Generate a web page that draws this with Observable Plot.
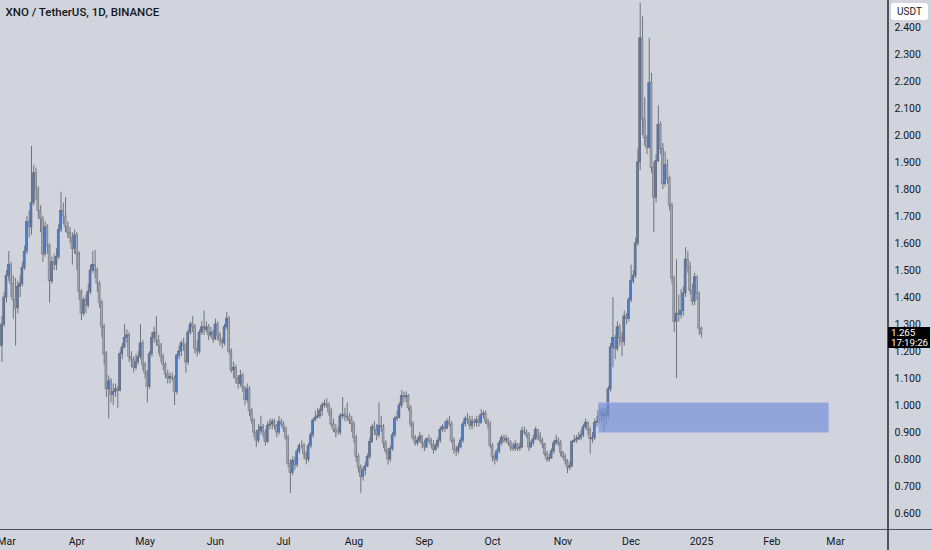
<!DOCTYPE html>
<html>
<head>
<meta charset="utf-8">
<script src="https://cdn.jsdelivr.net/npm/d3@7"></script>
<script src="https://cdn.jsdelivr.net/npm/@observablehq/plot@0.6"></script>
<style>
  body { margin: 0; background: #d1d4dc; }
  #chart { position: relative; width: 932px; height: 550px; background: #d1d4dc; overflow: hidden; font-family: Roboto, sans-serif; }
  #chart svg { position: absolute; left: 0; top: 0; }
  .vline { position: absolute; left: 887px; top: 0; width: 1.5px; height: 550px; background: #4f525c; }
  .hline { position: absolute; left: 0; top: 528.5px; width: 932px; height: 1.6px; background: #4f525c; }
  .badge { position: absolute; left: 891px; top: 3px; width: 37px; height: 17px; background: #fff; border-radius: 3px;
           font-size: 10px; line-height: 17px; text-align: center; color: #131722; }
  .last { position: absolute; left: 888px; width: 42px; height: 21px; background: #000; color: #fff;
          font-size: 9.8px; line-height: 10px; padding-left: 3px; box-sizing: border-box; padding-top: 1px;
          white-space: nowrap; letter-spacing: -0.1px; }
</style>
</head>
<body>
<div id="chart"></div>
<script>
// XNO/USDT daily candles
const title = "XNO / TetherUS, 1D, BINANCE"
const firstDay = "2024-02-28"
const firstOpen = 1.22

const close = [
  1.30,1.40,1.48,1.52,1.45,1.39,1.36,1.44,1.45,1.51,
  1.57,1.68,1.66,1.75,1.86,1.80,1.72,1.69,1.56,1.66,
  1.59,1.46,1.53,1.52,1.55,1.65,1.72,1.70,1.66,1.64,
  1.62,1.58,1.63,1.56,1.42,1.34,1.39,1.37,1.42,1.50,
  1.52,1.50,1.45,1.38,1.29,1.19,1.06,1.09,1.04,1.05,
  1.06,1.055,1.19,1.215,1.25,1.26,1.18,1.17,1.14,1.16,
  1.18,1.23,1.15,1.12,1.07,1.19,1.25,1.27,1.24,1.22,
  1.18,1.15,1.115,1.10,1.105,1.10,1.05,1.185,1.20,1.23,
  1.22,1.16,1.27,1.30,1.29,1.21,1.20,1.27,1.29,1.28,
  1.29,1.26,1.27,1.245,1.30,1.26,1.24,1.23,1.29,1.32,
  1.20,1.13,1.14,1.10,1.08,1.11,1.065,1.02,1.06,0.98,
  0.945,0.90,0.87,0.905,0.92,0.90,0.865,0.925,0.93,0.94,
  0.925,0.90,0.94,0.93,0.915,0.88,0.785,0.75,0.795,0.78,
  0.83,0.85,0.85,0.82,0.80,0.85,0.89,0.945,0.955,0.96,
  0.98,1.00,1.005,1.00,0.975,0.93,0.91,0.90,0.90,0.96,
  0.965,0.96,0.955,0.945,0.93,0.88,0.81,0.77,0.735,0.76,
  0.775,0.81,0.865,0.92,0.91,0.89,0.925,0.92,0.86,0.83,
  0.80,0.84,0.89,0.95,0.955,1.00,1.035,1.03,1.035,0.99,
  0.93,0.88,0.86,0.87,0.885,0.86,0.845,0.875,0.87,0.855,
  0.835,0.85,0.87,0.91,0.92,0.915,0.94,0.93,0.87,0.835,
  0.83,0.845,0.87,0.93,0.95,0.945,0.925,0.94,0.935,0.945,
  0.935,0.965,0.97,0.94,0.93,0.85,0.81,0.80,0.83,0.86,
  0.88,0.87,0.875,0.86,0.845,0.84,0.855,0.84,0.845,0.905,
  0.90,0.89,0.845,0.86,0.875,0.91,0.885,0.87,0.855,0.82,
  0.80,0.805,0.83,0.86,0.87,0.86,0.825,0.81,0.795,0.77,
  0.775,0.865,0.87,0.875,0.88,0.89,0.92,0.935,0.91,0.875,
  0.88,0.935,0.94,0.98,0.96,0.97,0.96,1.06,1.215,1.25,
  1.21,1.29,1.25,1.235,1.33,1.32,1.39,1.46,1.48,1.60,
  1.90,2.36,2.06,1.99,1.955,2.195,1.88,1.77,1.905,2.04,
  1.95,1.82,1.89,1.84,1.74,1.47,1.31,1.34,1.335,1.35,
  1.415,1.54,1.51,1.425,1.385,1.475,1.415,1.285,1.265
]

const high = [
  1.33,1.42,1.50,1.57,1.53,1.48,1.47,1.46,1.48,1.53,
  1.59,1.70,1.72,1.96,1.89,1.88,1.81,1.74,1.70,1.68,
  1.67,1.60,1.55,1.56,1.58,1.67,1.79,1.75,1.77,1.68,
  1.66,1.64,1.65,1.64,1.57,1.43,1.40,1.41,1.45,1.52,
  1.57,1.575,1.51,1.46,1.39,1.30,1.20,1.11,1.10,1.08,
  1.08,1.07,1.20,1.23,1.30,1.28,1.27,1.20,1.18,1.19,
  1.20,1.30,1.24,1.16,1.13,1.20,1.27,1.29,1.33,1.26,
  1.23,1.19,1.16,1.13,1.12,1.12,1.11,1.19,1.22,1.24,
  1.25,1.23,1.28,1.31,1.33,1.30,1.24,1.28,1.31,1.35,
  1.31,1.30,1.29,1.28,1.32,1.31,1.27,1.25,1.30,1.345,
  1.33,1.21,1.16,1.15,1.11,1.13,1.12,1.07,1.08,1.07,
  0.99,0.95,0.91,0.93,0.96,0.93,0.91,0.94,0.95,0.95,
  0.95,0.93,0.96,0.95,0.94,0.92,0.89,0.80,0.81,0.81,
  0.84,0.86,0.87,0.86,0.83,0.86,0.90,0.95,0.98,0.99,
  0.99,1.01,1.02,1.025,1.01,0.99,0.95,0.93,0.92,0.97,
  1.03,0.99,1.01,0.97,0.96,0.94,0.89,0.82,0.78,0.77,
  0.79,0.82,0.88,0.93,0.94,0.93,1.01,0.96,0.93,0.87,
  0.84,0.85,0.90,0.96,0.98,1.01,1.056,1.05,1.05,1.04,
  1.00,0.94,0.89,0.88,0.90,0.89,0.87,0.88,0.89,0.88,
  0.87,0.86,0.88,0.92,0.93,0.94,0.95,0.96,0.94,0.88,
  0.85,0.86,0.88,0.94,0.96,0.97,0.96,0.96,0.95,0.96,
  0.96,0.985,0.98,0.98,0.95,0.94,0.86,0.82,0.84,0.87,
  0.89,0.89,0.89,0.88,0.87,0.86,0.87,0.86,0.86,0.92,
  0.92,0.91,0.90,0.87,0.89,0.92,0.91,0.90,0.88,0.86,
  0.83,0.82,0.84,0.87,0.89,0.88,0.87,0.83,0.82,0.80,
  0.79,0.87,0.89,0.89,0.90,0.91,0.93,0.95,0.94,0.92,
  0.90,0.95,0.96,1.00,0.99,0.99,0.99,1.07,1.23,1.40,
  1.26,1.31,1.30,1.27,1.35,1.34,1.40,1.52,1.50,1.62,
  1.95,2.49,2.44,2.14,2.00,2.36,2.23,1.90,1.93,2.11,
  2.05,1.97,1.94,1.91,1.85,1.75,1.48,1.54,1.41,1.43,
  1.44,1.585,1.57,1.53,1.45,1.49,1.48,1.42,1.29
]

const low = [
  1.16,1.29,1.38,1.46,1.40,1.32,1.22,1.34,1.40,1.44,
  1.50,1.56,1.62,1.63,1.74,1.76,1.69,1.64,1.53,1.55,
  1.56,1.38,1.45,1.50,1.50,1.54,1.64,1.67,1.64,1.62,
  1.60,1.52,1.56,1.50,1.39,1.315,1.33,1.34,1.36,1.41,
  1.49,1.47,1.42,1.36,1.25,1.15,1.03,0.95,1.01,1.00,
  1.03,0.99,1.05,1.17,1.21,1.23,1.16,1.14,1.12,1.13,
  1.15,1.17,1.13,1.10,1.01,1.06,1.18,1.23,1.22,1.19,
  1.16,1.13,1.10,1.08,1.08,1.09,1.00,1.04,1.17,1.18,
  1.20,1.12,1.15,1.26,1.27,1.19,1.18,1.19,1.26,1.26,
  1.27,1.24,1.25,1.23,1.24,1.24,1.22,1.21,1.22,1.28,
  1.19,1.12,1.10,1.08,1.06,1.07,1.05,1.00,1.01,0.96,
  0.93,0.88,0.845,0.86,0.89,0.88,0.85,0.86,0.91,0.91,
  0.91,0.88,0.89,0.92,0.90,0.87,0.77,0.674,0.74,0.76,
  0.77,0.82,0.84,0.80,0.78,0.79,0.84,0.88,0.94,0.95,
  0.95,0.96,0.99,0.99,0.96,0.92,0.90,0.88,0.89,0.89,
  0.95,0.94,0.94,0.93,0.90,0.86,0.79,0.75,0.675,0.72,
  0.74,0.77,0.80,0.86,0.89,0.87,0.88,0.90,0.84,0.82,
  0.78,0.79,0.83,0.88,0.94,0.95,0.99,1.01,1.01,0.98,
  0.92,0.87,0.85,0.85,0.86,0.84,0.83,0.84,0.86,0.84,
  0.82,0.83,0.84,0.86,0.90,0.90,0.91,0.92,0.86,0.82,
  0.81,0.82,0.84,0.86,0.92,0.93,0.91,0.91,0.92,0.92,
  0.92,0.93,0.95,0.93,0.91,0.84,0.79,0.78,0.79,0.82,
  0.85,0.86,0.86,0.85,0.83,0.83,0.83,0.83,0.83,0.84,
  0.89,0.88,0.83,0.84,0.85,0.87,0.87,0.86,0.84,0.81,
  0.79,0.79,0.80,0.82,0.85,0.85,0.81,0.80,0.78,0.748,
  0.76,0.77,0.86,0.86,0.87,0.87,0.88,0.91,0.89,0.82,
  0.86,0.87,0.92,0.93,0.94,0.90,0.93,0.95,1.05,1.14,
  1.17,1.20,1.22,1.18,1.22,1.30,1.31,1.38,1.45,1.47,
  1.59,1.87,2.00,1.96,1.93,1.95,1.86,1.64,1.75,1.90,
  1.93,1.80,1.81,1.82,1.72,1.45,1.27,1.10,1.31,1.32,
  1.33,1.40,1.49,1.41,1.37,1.37,1.39,1.26,1.25
]

// drawn zone
const zoneFrom = "2024-11-17"
const zoneTo = "2025-02-26"
const zoneLow = 0.9
const zoneHigh = 1.008

const lastPrice = 1.265
const countdown = "17:19:26"
const quote = "USDT"

const monthTicks = ["2024-03-01","2024-04-01","2024-05-01","2024-06-01","2024-07-01","2024-08-01",
  "2024-09-01","2024-10-01","2024-11-01","2024-12-01","2025-01-01","2025-02-01","2025-03-01"]
const priceTicks = [0.6,0.7,0.8,0.9,1.0,1.1,1.2,1.3,1.4,1.5,1.6,1.7,1.8,1.9,2.0,2.1,2.2,2.3,2.4]

const day0 = new Date(firstDay)
const candles = close.map((c, i) => ({
  date: d3.utcDay.offset(day0, i),
  open: i ? close[i - 1] : firstOpen,
  close: c,
  high: high[i],
  low: low[i]
}))
const up = candles.filter(d => d.close >= d.open)
const down = candles.filter(d => d.close < d.open)

const bodyLeft = d => d3.utcHour.offset(d.date, -10)
const bodyRight = d => d3.utcHour.offset(d.date, 10)

const monthFmt = d3.utcFormat("%b")

const chart = Plot.plot({
  width: 932,
  height: 550,
  marginLeft: 0,
  marginRight: 44,
  marginTop: 0,
  marginBottom: 21,
  style: {background: "transparent", fontFamily: "Roboto, sans-serif", fontSize: "10.5px", color: "#131722"},
  x: {type: "utc", domain: [new Date(Date.UTC(2024, 1, 27, 8, 35)), new Date(Date.UTC(2025, 2, 24, 8))]},
  y: {domain: [0.541, 2.5]},
  marks: [
    Plot.ruleX(candles, {x: "date", y1: "low", y2: "high", stroke: "#70737d", strokeWidth: 1}),
    Plot.rect(down, {x1: bodyLeft, x2: bodyRight, y1: "open", y2: "close", fill: "#a4a7af", stroke: "#7a7d87", strokeWidth: 0.7}),
    Plot.rect(up, {x1: bodyLeft, x2: bodyRight, y1: "open", y2: "close", fill: "#4a7dd6", stroke: "#646874", strokeWidth: 0.7}),
    Plot.rect([{from: new Date(zoneFrom), to: new Date(zoneTo), lo: zoneLow, hi: zoneHigh}], {
      x1: "from", x2: "to", y1: "lo", y2: "hi",
      fill: "rgb(118,143,214)", fillOpacity: 0.7, stroke: "#9fb0e2", strokeWidth: 1
    }),
    Plot.axisX({
      ticks: monthTicks.map(d => new Date(d)),
      tickSize: 0, tickPadding: 8, label: null,
      tickFormat: d => d.getUTCMonth() === 0 ? String(d.getUTCFullYear()) : monthFmt(d)
    }),
    Plot.axisY({anchor: "right", ticks: priceTicks, tickFormat: d3.format(".3f"), tickSize: 0, tickPadding: 6, label: null}),
    Plot.text([title], {frameAnchor: "top-left", dx: 5, dy: 12, textAnchor: "start", lineAnchor: "middle",
      fontSize: 11.5, fontWeight: 500, fill: "#131722"})
  ]
})

const root = document.getElementById("chart")
root.append(chart)

const vline = document.createElement("div")
vline.className = "vline"
root.append(vline)
const hline = document.createElement("div")
hline.className = "hline"
root.append(hline)

const badge = document.createElement("div")
badge.className = "badge"
badge.textContent = quote
root.append(badge)

// last price tag, placed through the chart's own y scale
const ly = chart.scale("y").apply(lastPrice)
const tag = document.createElement("div")
tag.className = "last"
tag.style.top = (ly - 6.5) + "px"
tag.innerHTML = d3.format(".3f")(lastPrice) + "<br>" + countdown
root.append(tag)
</script>
</body>
</html>
